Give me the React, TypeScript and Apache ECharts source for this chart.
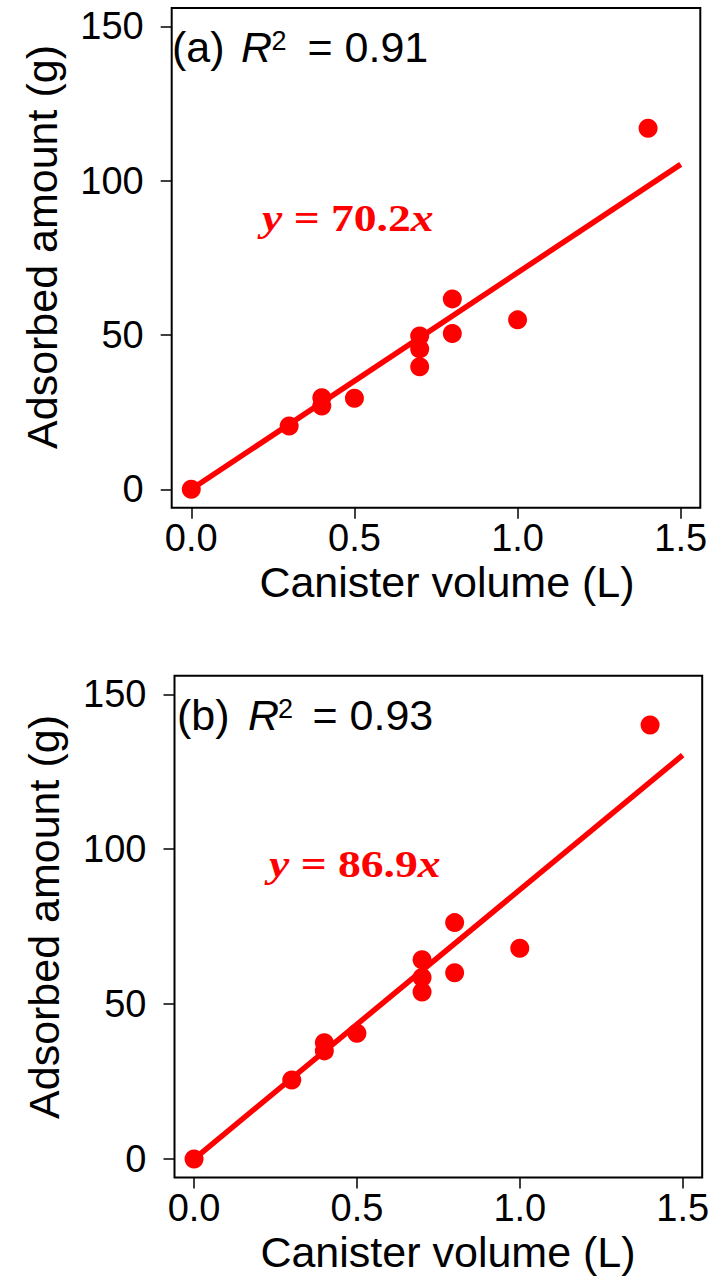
import React, { useEffect, useRef } from "react";
import * as echarts from "echarts";

// ---- data ----
const xTicks = [0, 0.5, 1.0, 1.5];
const yTicks = [0, 50, 100, 150];

const volumeA = [0, 0.3, 0.4, 0.4, 0.5, 0.7, 0.7, 0.7, 0.8, 0.8, 1.0, 1.4];
const adsorbedA = [0, 20.5, 29.7, 27.0, 29.5, 49.7, 45.5, 39.7, 61.7, 50.5, 54.9, 117.0];

const volumeB = [0, 0.3, 0.4, 0.4, 0.5, 0.7, 0.7, 0.7, 0.8, 0.8, 1.0, 1.4];
const adsorbedB = [0, 25.5, 37.5, 34.9, 40.6, 64.3, 58.6, 53.9, 76.3, 60.1, 68.0, 140.1];

const slopeA = 70.2;
const slopeB = 86.9;
const r2A = "0.91";
const r2B = "0.93";
const fitX = [0, 1.5];

const xTitle = "Canister volume (L)";
const yTitle = "Adsorbed amount (g)";

const RED = "#ff0000";
const SANS = "Liberation Sans, Arial, sans-serif";
const SERIF = "Liberation Serif, Times New Roman, serif";

function makeAxes(gridIndex: number) {
  const x = {
    type: "value",
    gridIndex,
    min: -0.06,
    max: 1.56,
    axisLine: { show: false, onZero: false },
    splitLine: { show: false },
    axisTick: {
      show: true,
      inside: false,
      length: 11,
      lineStyle: { color: "#000", width: 1.5 },
      customValues: xTicks,
    },
    axisLabel: {
      customValues: xTicks,
      formatter: (v: number) => v.toFixed(1),
      fontSize: 38,
      fontFamily: SANS,
      color: "#000",
      margin: 11,
    },
  };
  const y = {
    type: "value",
    gridIndex,
    min: -6,
    max: 156,
    axisLine: { show: false, onZero: false },
    splitLine: { show: false },
    axisTick: {
      show: true,
      inside: false,
      length: 11,
      lineStyle: { color: "#000", width: 1.5 },
      customValues: yTicks,
    },
    axisLabel: {
      customValues: yTicks,
      formatter: (v: number) => String(v),
      fontSize: 38,
      fontFamily: SANS,
      color: "#000",
      margin: 28,
      padding: [8, 0, 0, 0],
    },
  };
  return { x, y };
}

function panelTexts(
  label: string,
  r2: string,
  slope: number,
  o: { lx: number; base: number; rx: number; sx: number; ex: number; eqx: number; eqBase: number; ytx: number; yty: number; xtx: number; xtBase: number }
) {
  const F = 43;
  const c = 0.3465;
  const EF = 38;
  return [
    { type: "text", x: o.lx, y: o.base - c * F, style: { text: label, fontSize: F, fontFamily: SANS, fill: "#000", align: "left", verticalAlign: "middle" } },
    { type: "text", x: o.rx, y: o.base - c * F, style: { text: "R", fontSize: F, fontStyle: "italic", fontFamily: SANS, fill: "#000", align: "left", verticalAlign: "middle" } },
    { type: "text", x: o.sx, y: o.base - 12 - c * 27, style: { text: "2", fontSize: 27, fontFamily: SANS, fill: "#000", align: "left", verticalAlign: "middle" } },
    { type: "text", x: o.ex, y: o.base - c * F, style: { text: "= " + r2, fontSize: F, fontFamily: SANS, fill: "#000", align: "left", verticalAlign: "middle" } },
    {
      type: "text",
      x: o.eqx,
      y: o.eqBase - 0.3375 * EF,
      scaleX: 1.2,
      style: {
        text: "{i|y} = " + slope.toFixed(1) + "{i|x}",
        fontSize: EF,
        fontWeight: "bold",
        fontFamily: SERIF,
        fill: RED,
        align: "left",
        verticalAlign: "middle",
        rich: { i: { fontSize: EF, fontWeight: "bold", fontStyle: "italic", fontFamily: SERIF, fill: RED } },
      },
    },
    {
      type: "text",
      x: o.ytx,
      y: o.yty,
      rotation: Math.PI / 2,
      style: { text: yTitle, fontSize: F, fontFamily: SANS, fill: "#000", align: "center", verticalAlign: "middle" },
    },
    { type: "text", x: o.xtx, y: o.xtBase - c * F, style: { text: xTitle, fontSize: F, fontFamily: SANS, fill: "#000", align: "center", verticalAlign: "middle" } },
  ];
}

export default function App() {
  const ref = useRef<HTMLDivElement>(null);
  useEffect(() => {
    if (!ref.current) return;
    const chart = echarts.init(ref.current, undefined, { renderer: "svg" });
    const a = makeAxes(0);
    const b = makeAxes(1);
    const option = {
      animation: false,
      backgroundColor: "#fff",
      grid: [
        { left: 171.7, top: 7.9, width: 528.6, height: 499.9, show: true, borderColor: "#000", borderWidth: 2, backgroundColor: "transparent" },
        { left: 174.5, top: 675.7, width: 527.7, height: 501.9, show: true, borderColor: "#000", borderWidth: 2, backgroundColor: "transparent" },
      ],
      xAxis: [a.x, b.x],
      yAxis: [a.y, b.y],
      series: [
        {
          type: "line",
          xAxisIndex: 0,
          yAxisIndex: 0,
          data: fitX.map((x) => [x, slopeA * x]),
          showSymbol: false,
          symbol: "none",
          lineStyle: { color: RED, width: 5.5 },
        },
        {
          type: "scatter",
          xAxisIndex: 0,
          yAxisIndex: 0,
          data: volumeA.map((v, i) => [v, adsorbedA[i]]),
          symbolSize: 19,
          itemStyle: { color: RED, opacity: 1 },
        },
        {
          type: "line",
          xAxisIndex: 1,
          yAxisIndex: 1,
          data: fitX.map((x) => [x, slopeB * x]),
          showSymbol: false,
          symbol: "none",
          lineStyle: { color: RED, width: 5.5 },
        },
        {
          type: "scatter",
          xAxisIndex: 1,
          yAxisIndex: 1,
          data: volumeB.map((v, i) => [v, adsorbedB[i]]),
          symbolSize: 19,
          itemStyle: { color: RED, opacity: 1 },
        },
      ],
      graphic: [
        ...panelTexts("(a)", r2A, slopeA, { lx: 172, base: 62, rx: 241, sx: 271.5, ex: 307.5, eqx: 262, eqBase: 231, ytx: 42, yty: 247, xtx: 447, xtBase: 597 }),
        ...panelTexts("(b)", r2B, slopeB, { lx: 177, base: 730, rx: 248, sx: 278, ex: 312.5, eqx: 269, eqBase: 877, ytx: 44, yty: 917, xtx: 448, xtBase: 1267 }),
      ],
    };
    chart.setOption(option as any);
    return () => chart.dispose();
  }, []);
  return <div ref={ref} style={{ position: "absolute", left: 0, top: 0, width: 715, height: 1277 }} />;
}
